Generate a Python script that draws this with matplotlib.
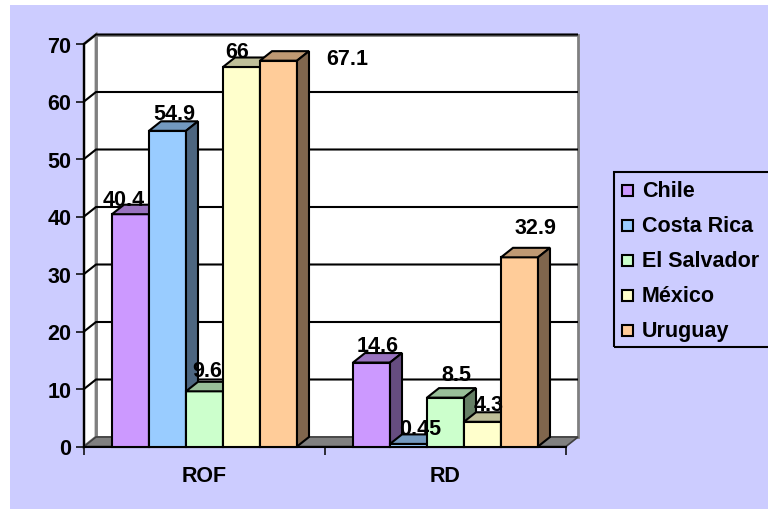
import matplotlib
matplotlib.use("Agg")
import matplotlib.pyplot as plt
from matplotlib.patches import Rectangle, Polygon
import numpy as np

plt.rcParams['font.family'] = ['Liberation Sans', 'DejaVu Sans']
plt.rcParams['font.weight'] = 'bold'

# ---- data ----
categories = ["ROF", "RD"]
countries = ["Chile", "Costa Rica", "El Salvador", "México", "Uruguay"]
chile = [40.4, 14.6]
costa_rica = [54.9, 0.45]
el_salvador = [9.6, 8.5]
mexico = [66, 4.3]
uruguay = [67.1, 32.9]
series = [chile, costa_rica, el_salvador, mexico, uruguay]
label_text = [["40.4", "14.6"], ["54.9", "0.45"], ["9.6", "8.5"], ["66", "4.3"], ["67.1", "32.9"]]
yticks = [0, 10, 20, 30, 40, 50, 60, 70]

# ---- styles ----
front_colors = ['#CC99FF', '#99CCFF', '#CCFFCC', '#FFFFCC', '#FFCC99']
def shade(hexc, f):
    r, g, b = [int(hexc[i:i + 2], 16) for i in (1, 3, 5)]
    return (r * f / 255, g * f / 255, b * f / 255)
top_colors = [shade(c, 0.75) for c in front_colors]
side_colors = [shade(c, 0.5) for c in front_colors]
lavender = '#CCCCFF'

# label offsets in pixels (relative to front-top centre of each bar): [series][category]
lab_dx = [[-6.5, 6.5], [6.5, 11.5], [2.5, 11], [-4.5, 6.5], [68.5, 15.5]]
lab_dy = [[14.5, 17], [17, 15], [21, 23.5], [15, 17], [1.7, 30]]

W, H = 768, 510
fig = plt.figure(figsize=(W / 100, H / 100), dpi=100)
fig.patch.set_facecolor('white')
fig.add_artist(Rectangle((10 / W, 0), 1 - 10 / W, 1 - 6 / H, transform=fig.transFigure,
                         facecolor=lavender, edgecolor='none', zorder=-10))

ax_l, ax_r, ax_b, ax_t = 84, 566, 447.5, 45
ax = fig.add_axes([ax_l / W, 1 - ax_b / H, (ax_r - ax_l) / W, (ax_b - ax_t) / H])
ax.set_facecolor('none')
ax.set_xlim(-0.5, 1.5)
ax.set_ylim(0, 70)

px_x = (ax_r - ax_l) / 2.0      # px per x unit
px_y = (ax_b - ax_t) / 70.0     # px per y unit
ddx = 12.0 / px_x               # depth offset in data units
ddy = 9.5 / px_y

x0, x1 = -0.5, 1.5
# back wall
ax.add_patch(Polygon([(x0 + ddx, ddy), (x1 + ddx, ddy), (x1 + ddx, 70 + ddy), (x0 + ddx, 70 + ddy)],
                     closed=True, facecolor='white', edgecolor='#808080', lw=2, zorder=1, clip_on=False))
# left wall
ax.add_patch(Polygon([(x0, 0), (x0, 70), (x0 + ddx, 70 + ddy), (x0 + ddx, ddy)],
                     closed=True, facecolor='white', edgecolor='#808080', lw=2, zorder=1.1, clip_on=False))
# gridlines
for v in yticks[1:]:
    ax.plot([x0, x0 + ddx, x1 + ddx], [v, v + ddy, v + ddy], color='black', lw=1.5, zorder=1.5,
            clip_on=False, solid_capstyle='butt')
# floor
ax.add_patch(Polygon([(x0, 0), (x1, 0), (x1 + ddx, ddy), (x0 + ddx, ddy)],
                     closed=True, facecolor='#808080', edgecolor='#404040', lw=1.2, zorder=1.6, clip_on=False))

# bars
n = len(series)
bw = 37.0 / px_x
xc = np.arange(len(categories))
z = 3
for ci in range(len(categories)):
    for si in range(n):
        v = series[si][ci]
        xl = xc[ci] + (si - (n - 1) / 2) * bw - bw / 2
        xr = xl + bw
        ax.bar(xl, v, width=bw, align='edge', color=front_colors[si], edgecolor='black',
               lw=1.5, zorder=z, clip_on=False)
        ax.add_patch(Polygon([(xl, v), (xr, v), (xr + ddx, v + ddy), (xl + ddx, v + ddy)], closed=True,
                             facecolor=top_colors[si], edgecolor='black', lw=1.5, zorder=z + 0.01,
                             clip_on=False))
        ax.add_patch(Polygon([(xr, 0), (xr, v), (xr + ddx, v + ddy), (xr + ddx, ddy)], closed=True,
                             facecolor=side_colors[si], edgecolor='black', lw=1.5, zorder=z + 0.01,
                             clip_on=False))
        z += 0.1
        ax.annotate(label_text[si][ci], xy=(xl + bw / 2, v),
                    xytext=(lab_dx[si][ci] * 0.72, lab_dy[si][ci] * 0.72), textcoords='offset points',
                    ha='center', va='center', fontsize=15.5, fontweight='bold', zorder=20,
                    annotation_clip=False)

# axes styling
for s in ['top', 'right']:
    ax.spines[s].set_visible(False)
ax.spines['left'].set_linewidth(1.5)
ax.spines['bottom'].set_linewidth(1.5)
ax.spines['left'].set_zorder(2)
ax.spines['bottom'].set_zorder(2)
ax.set_yticks(yticks)
ax.set_yticklabels([str(t) for t in yticks])
ax.tick_params(axis='y', length=5.5, width=1.1, pad=3.5, labelsize=15.5)
ax.set_xticks(xc)
ax.set_xticklabels(categories)
ax.set_xticks([-0.5, 0.5, 1.5], minor=True)
ax.tick_params(axis='x', which='major', length=0, pad=13, labelsize=15.5)
ax.tick_params(axis='x', which='minor', length=6, width=1.1)
for lab in ax.get_xticklabels() + ax.get_yticklabels():
    lab.set_fontweight('bold')

# legend (manual)
def fx(px):
    return px / W
def fy(py):
    return 1 - py / H
lt, lb, lleft = 172.7, 348, 614
fig.add_artist(Rectangle((fx(lleft), fy(lb)), fx(800 - lleft), (lb - lt) / H, transform=fig.transFigure,
                         facecolor='none', edgecolor='black', lw=1.5, clip_on=False, zorder=5))
for i, name in enumerate(countries):
    cy = 191.5 + 35 * i
    fig.add_artist(Rectangle((fx(622), fy(cy + 5.5)), 11 / W, 11 / H, transform=fig.transFigure,
                             facecolor=front_colors[i], edgecolor='black', lw=1.5, zorder=6))
    fig.text(fx(642), fy(cy), name, ha='left', va='center', fontsize=15.5, fontweight='bold', zorder=6)

fig.savefig('out.png', dpi=100)
